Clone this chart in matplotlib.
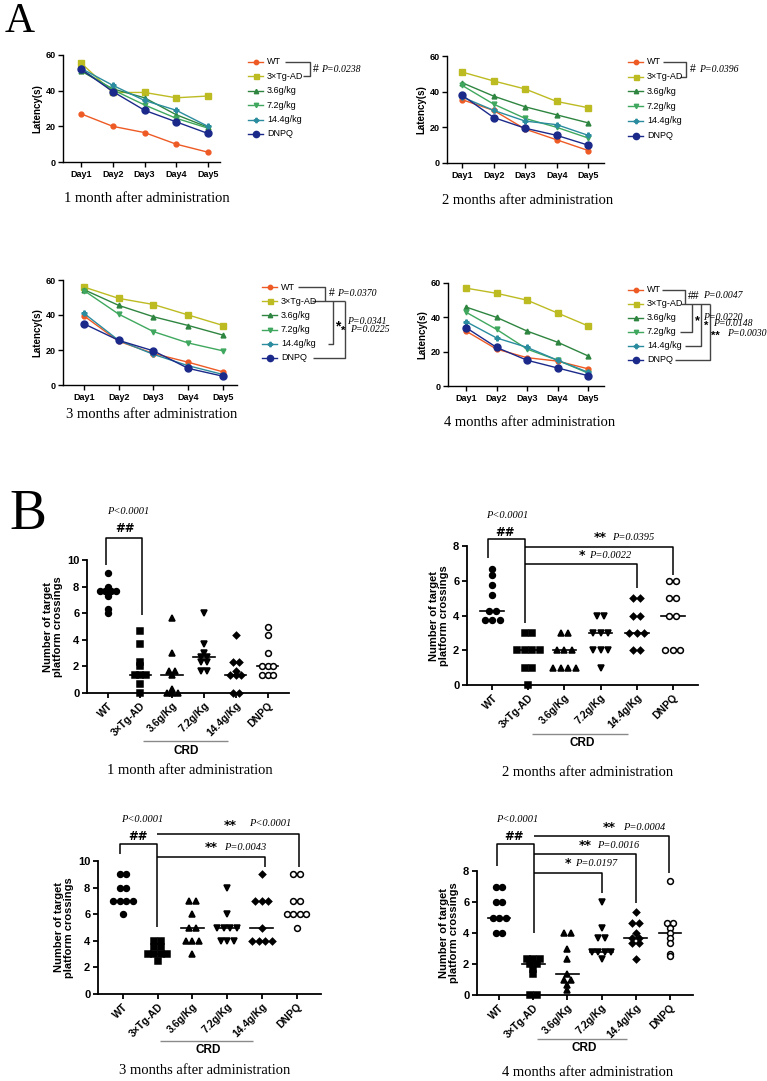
import matplotlib
matplotlib.use("Agg")
import matplotlib.pyplot as plt
import numpy as np
from collections import Counter

plt.rcParams['font.family'] = ['Liberation Sans', 'DejaVu Sans']

# ── dados ─────────────────────────────────────────────────────────────────────
days = ["Day1", "Day2", "Day3", "Day4", "Day5"]
groups_a = ["WT", "3×Tg-AD", "3.6g/kg", "7.2g/kg", "14.4g/kg", "DNPQ"]
groups_b = ["WT", "3×Tg-AD", "3.6g/Kg", "7.2g/Kg", "14.4g/Kg", "DNPQ"]

# latência (s) por grupo: WT, 3xTg, 3.6, 7.2, 14.4, DNPQ
lat_1m = [[27, 20, 16.5, 10, 5.5],
          [55.5, 39, 39, 36, 37],
          [51, 41, 36, 26.5, 19.5],
          [52, 40.5, 32, 24.5, 19],
          [52.5, 43, 34.5, 29, 20],
          [52, 39.5, 29, 22.5, 16]]
lat_2m = [[35.5, 29.5, 19, 13, 7],
          [51, 46, 41.5, 34.5, 31],
          [45, 37.5, 31.5, 27, 22.5],
          [43.5, 33, 25, 20, 14],
          [37, 29.5, 23.5, 21.5, 15.5],
          [38, 25.5, 19.5, 15.5, 10]]
lat_3m = [[39.5, 25, 18, 13, 7.5],
          [56, 49.5, 46, 40, 34],
          [54.5, 45.5, 39, 34, 28.5],
          [54, 40.5, 30.5, 24, 19.5],
          [41, 25.5, 17.5, 11, 6],
          [35, 25.5, 19.5, 9.5, 5]]
lat_4m = [[32, 21.5, 16.5, 14.5, 10],
          [57, 54, 50, 42.5, 35],
          [46, 40, 32, 25.5, 17.5],
          [43, 33, 21.5, 15, 7.5],
          [37.5, 28, 22.5, 15, 8],
          [34, 22.5, 15, 10.5, 6]]

# número de travessias da plataforma (por animal)
cross_1m = [[9, 8, 7.67, 7.67, 7.67, 7.67, 7.33, 6.33, 6],
            [4.67, 3.67, 2.33, 2, 1.33, 1.33, 1.33, 0.67, 0],
            [5.67, 3, 1.67, 1.67, 1.33, 0.33, 0, 0, 0],
            [6, 3.67, 3, 2.67, 2.67, 2.33, 2.33, 1.67, 1.67],
            [4.33, 2.33, 2.33, 1.67, 1.33, 1.33, 1.33, 0, 0],
            [5, 4.33, 3, 2, 2, 2, 1.33, 1.33, 1.33]]
cross_2m = [[6.67, 6.33, 5.75, 5.17, 4.25, 4.25, 3.75, 3.75, 3.75],
            [3, 3, 2, 2, 2, 2, 1, 1, 0],
            [3, 3, 2, 2, 2, 1, 1, 1, 1],
            [4, 4, 3, 3, 3, 2, 2, 2, 1],
            [5, 5, 4, 4, 3, 3, 3, 2, 2],
            [6, 6, 5, 5, 4, 4, 2, 2, 2]]
cross_3m = [[9, 9, 8, 8, 7, 7, 7, 7, 6],
            [4, 4, 3.5, 3.5, 3, 3, 3, 3, 2.5],
            [7, 7, 6, 5, 5, 4, 4, 4, 3],
            [8, 6, 5, 5, 5, 5, 4, 4, 4],
            [9, 7, 7, 7, 5, 4, 4, 4, 4],
            [9, 9, 7, 7, 6, 6, 6, 6, 5]]
cross_4m = [[7, 7, 6, 6, 5, 5, 5, 4, 4],
            [2.33, 2.33, 2.33, 2, 2, 1.67, 1.33, 0, 0],
            [4, 4, 3, 2.33, 1.33, 1, 1, 0.67, 0.33],
            [6, 4.33, 3.67, 3.67, 2.75, 2.75, 2.75, 2.75, 2.33],
            [5.33, 4.67, 4.67, 4, 3.67, 3.67, 3.33, 3.33, 2.33],
            [7.33, 4.67, 4.67, 4.33, 4, 3.67, 3.33, 2.67, 2.5]]

# ── estilo ────────────────────────────────────────────────────────────────────
W, H = 767, 1081
colors = ["#EE5A24", "#BDBB22", "#2E8540", "#3FA85E", "#2A8C9E", "#1B2A8A"]
mk_a = ["o", "s", "^", "v", "P", "o"]
ms_a = [3.5, 4, 3.5, 3.5, 3.5, 5]
mk_b = ["o", "s", "^", "v", "D", "o"]
ms_b = [4.2, 4.2, 4.2, 4.2, 3.3, 4.2]
SERIF = "Liberation Serif"

fig = plt.figure(figsize=(W / 100, H / 100), dpi=100)
ov = fig.add_axes([0, 0, 1, 1])
ov.set_xlim(0, W); ov.set_ylim(H, 0); ov.axis("off")
ov.set_zorder(10); ov.patch.set_visible(False)


def px_axes(l, t, r, b):
    return fig.add_axes([l / W, 1 - b / H, (r - l) / W, (b - t) / H])


def style(ax, lw, fs):
    for s in ["top", "right"]:
        ax.spines[s].set_visible(False)
    for s in ["left", "bottom"]:
        ax.spines[s].set_linewidth(lw)
    ax.tick_params(width=lw, length=3.5, labelsize=fs, pad=2)
    for t in ax.get_xticklabels() + ax.get_yticklabels():
        t.set_fontweight("bold")


def seg(xs, ys, c="black", lw=1.0):
    ov.plot(xs, ys, color=c, lw=lw, solid_capstyle="butt")


def caption(x, y, s):
    ov.text(x, y, s, family=SERIF, fontsize=10.5, ha="center", va="center")


def ptext(x, y, s, ha="left", fs=7):
    ov.text(x, y, s, family=SERIF, style="italic", fontsize=fs, ha=ha, va="center")


# ── painel A: curvas de latência ─────────────────────────────────────────────
panels_a = [
    (lat_1m, (63, 55, 220, 162), (0.43, 5.38), 248, 62, 14.4),
    (lat_2m, (447, 56, 604, 163), (0.52, 5.5), 628, 62, 14.7),
    (lat_3m, (63, 280, 237, 385), (0.4, 5.4), 262, 287, 14.2),
    (lat_4m, (448, 283, 604, 386), (0.41, 5.52), 628, 290, 14.0),
]
x = np.arange(1, 6)
for data, box, xl, lx, ly, dy in panels_a:
    ax = px_axes(*box)
    for i, vals in enumerate(data):
        ax.plot(x, vals, color=colors[i], marker=mk_a[i], ms=ms_a[i], lw=1.0,
                clip_on=False, zorder=3 + (i == 5))
        # legenda manual
        yy = ly + i * dy
        ov.plot([lx, lx + 15], [yy, yy], color=colors[i], lw=1.0)
        ov.plot([lx + 7.5], [yy], color=colors[i], marker=mk_a[i], ms=ms_a[i] * 0.9)
        ov.text(lx + 19, yy, groups_a[i], fontsize=6.5, va="center", ha="left")
    ax.set_xlim(*xl); ax.set_ylim(0, 60)
    ax.set_yticks([0, 20, 40, 60])
    ax.set_xticks(x, days)
    ax.set_ylabel("Latency(s)", fontsize=7, fontweight="bold", labelpad=2)
    style(ax, 1.0, 6.5)

# colchetes de significância (painel A)
g = "#444444"
seg([285, 310, 310, 303], [62, 62, 76.4, 76.4], g)
ov.text(313, 69, "#", fontsize=7.5, va="center", ha="left")
ptext(321, 69, "P=0.0238")

seg([663, 686, 686, 680], [62, 62, 76.7, 76.7], g)
ov.text(690, 69, "#", fontsize=7.5, va="center", ha="left")
ptext(699, 69, "P=0.0396")

seg([298, 325, 325], [287, 287, 301], g)
seg([312, 345], [301, 301], g)
seg([333, 333, 328], [301, 344, 344], g)
seg([345, 345, 313], [301, 358, 358], g)
ov.text(329, 293, "#", fontsize=7.5, va="center", ha="left")
ptext(337, 293, "P=0.0370")
ov.text(338, 326, "*", fontsize=10, va="center", ha="center", fontweight="bold")
ptext(347, 321, "P=0.0341")
ov.text(343, 331, "*", fontsize=8, va="center", ha="center", fontweight="bold")
ptext(350, 329, "P=0.0225")

seg([662, 685, 685], [290, 290, 304], g)
seg([681, 710], [304, 304], g)
seg([680, 692, 692], [332, 332, 304], g)
seg([685, 701, 701], [346, 346, 304], g)
seg([675, 710, 710], [360, 360, 304], g)
ov.text(688, 296, "##", fontsize=7.5, va="center", ha="left")
ptext(703, 296, "P=0.0047")
ov.text(697, 321, "*", fontsize=9, va="center", ha="center", fontweight="bold")
ptext(703, 317, "P=0.0220")
ov.text(706, 326, "*", fontsize=8, va="center", ha="center", fontweight="bold")
ptext(713, 324, "P=0.0148")
ov.text(711, 336, "**", fontsize=8, va="center", ha="left", fontweight="bold")
ptext(727, 333, "P=0.0030")

caption(147, 199, "1 month after administration")
caption(528, 201, "2 months after administration")
caption(152, 415, "3 months after administration")
caption(530, 423, "4 months after administration")

ov.text(20, 22, "A", family=SERIF, fontsize=30, ha="center", va="center")
ov.text(28, 515, "B", family=SERIF, fontsize=40, ha="center", va="center")

# ── painel B: travessias da plataforma ───────────────────────────────────────
panels_b = [
    (cross_1m, (87, 560, 289, 693), (-0.66, 5.66), 10, [0, 2, 4, 6, 8, 10], 5.5),
    (cross_2m, (467, 546, 698, 685), (-0.7, 5.7), 8, [0, 2, 4, 6, 8], 7.5),
    (cross_3m, (98, 861, 321, 994), (-0.72, 5.7), 10, [0, 2, 4, 6, 8, 10], 6.5),
    (cross_4m, (477, 871, 693, 995), (-0.65, 5.68), 8, [0, 2, 4, 6, 8], 6.5),
]
for data, box, xl, ymax, yt, dpx in panels_b:
    ax = px_axes(*box)
    ppu = (box[2] - box[0]) / (xl[1] - xl[0])
    step = dpx / ppu
    for i, vals in enumerate(data):
        cnt = Counter(vals); seen = {}
        xs = []
        for v in vals:
            k = seen.get(v, 0); seen[v] = k + 1
            xs.append(i + (k - (cnt[v] - 1) / 2) * step)
        face = "white" if i == 5 else "black"
        ax.plot(xs, vals, ls="none", marker=mk_b[i], ms=ms_b[i], mfc=face,
                mec="black", mew=1.1, clip_on=False, zorder=3)
        med = np.median(vals)
        ax.plot([i - 0.33, i + 0.33], [med, med], color="black", lw=1.2, zorder=2)
    ax.set_xlim(*xl); ax.set_ylim(0, ymax)
    ax.set_yticks(yt)
    ax.set_xticks(range(6))
    ax.set_xticklabels(groups_b, rotation=45, ha="right", rotation_mode="anchor")
    ax.set_ylabel("Number of target\nplatform crossings", fontsize=8,
                  fontweight="bold", labelpad=3, linespacing=1.0)
    style(ax, 1.3, 7.5)
    ax.tick_params(axis="y", labelsize=8)

# colchetes (painel B)
def stars(x, y, s, fs=9):
    ov.text(x, y, s, fontsize=fs, ha="center", va="center", fontweight="bold",
            family="DejaVu Sans")

seg([106, 106, 142, 142], [565, 538, 538, 615], lw=1.1)
stars(125, 529, "##", 8.5)
ptext(128, 512, "P<0.0001", "center", 7.5)

seg([488, 488, 525, 525], [558, 539, 539, 623], lw=1.1)
seg([525, 673, 673], [547, 547, 575], lw=1.1)
seg([525, 637, 637], [564, 564, 588], lw=1.1)
stars(505, 532, "##", 8.5)
ptext(507, 516, "P<0.0001", "center", 7.5)
stars(600, 537, "**")
ptext(612, 537, "P=0.0395", fs=7.5)
stars(582, 556, "*")
ptext(589, 555, "P=0.0022", fs=7.5)

seg([120, 120, 157, 157], [854, 844, 844, 927], lw=1.1)
seg([157, 299, 299], [834, 834, 867], lw=1.1)
seg([157, 265, 265], [857, 857, 867], lw=1.1)
stars(138, 837, "##", 8.5)
ptext(142, 820, "P<0.0001", "center", 7.5)
stars(230, 826, "**")
ptext(249, 824, "P<0.0001", fs=7.5)
stars(211, 848, "**")
ptext(224, 847, "P=0.0043", fs=7.5)

seg([497, 497, 534, 534], [866, 844, 844, 933], lw=1.1)
seg([534, 669, 669], [836, 836, 873], lw=1.1)
seg([534, 636, 636], [854, 854, 903], lw=1.1)
seg([534, 602, 602], [873, 873, 893], lw=1.1)
stars(514, 837, "##", 8.5)
ptext(517, 820, "P<0.0001", "center", 7.5)
stars(609, 828, "**")
ptext(623, 828, "P=0.0004", fs=7.5)
stars(585, 846, "**")
ptext(597, 846, "P=0.0016", fs=7.5)
stars(568, 864, "*")
ptext(575, 864, "P=0.0197", fs=7.5)

# linha CRD
for x0, x1, yl, xt, ytx in [(143, 228, 741, 186, 751), (532, 628, 734, 582, 743),
                            (160, 253, 1041, 208, 1050), (537, 627, 1039, 584, 1048)]:
    seg([x0, x1], [yl, yl], "#8a8a8a", 1.0)
    ov.text(xt, ytx, "CRD", fontsize=8.5, fontweight="bold", ha="center", va="center")

caption(190, 770, "1 month after administration")
caption(588, 772, "2 months after administration")
caption(205, 1071, "3 months after administration")
caption(588, 1072, "4 months after administration")

fig.savefig("out.png", dpi=100)
